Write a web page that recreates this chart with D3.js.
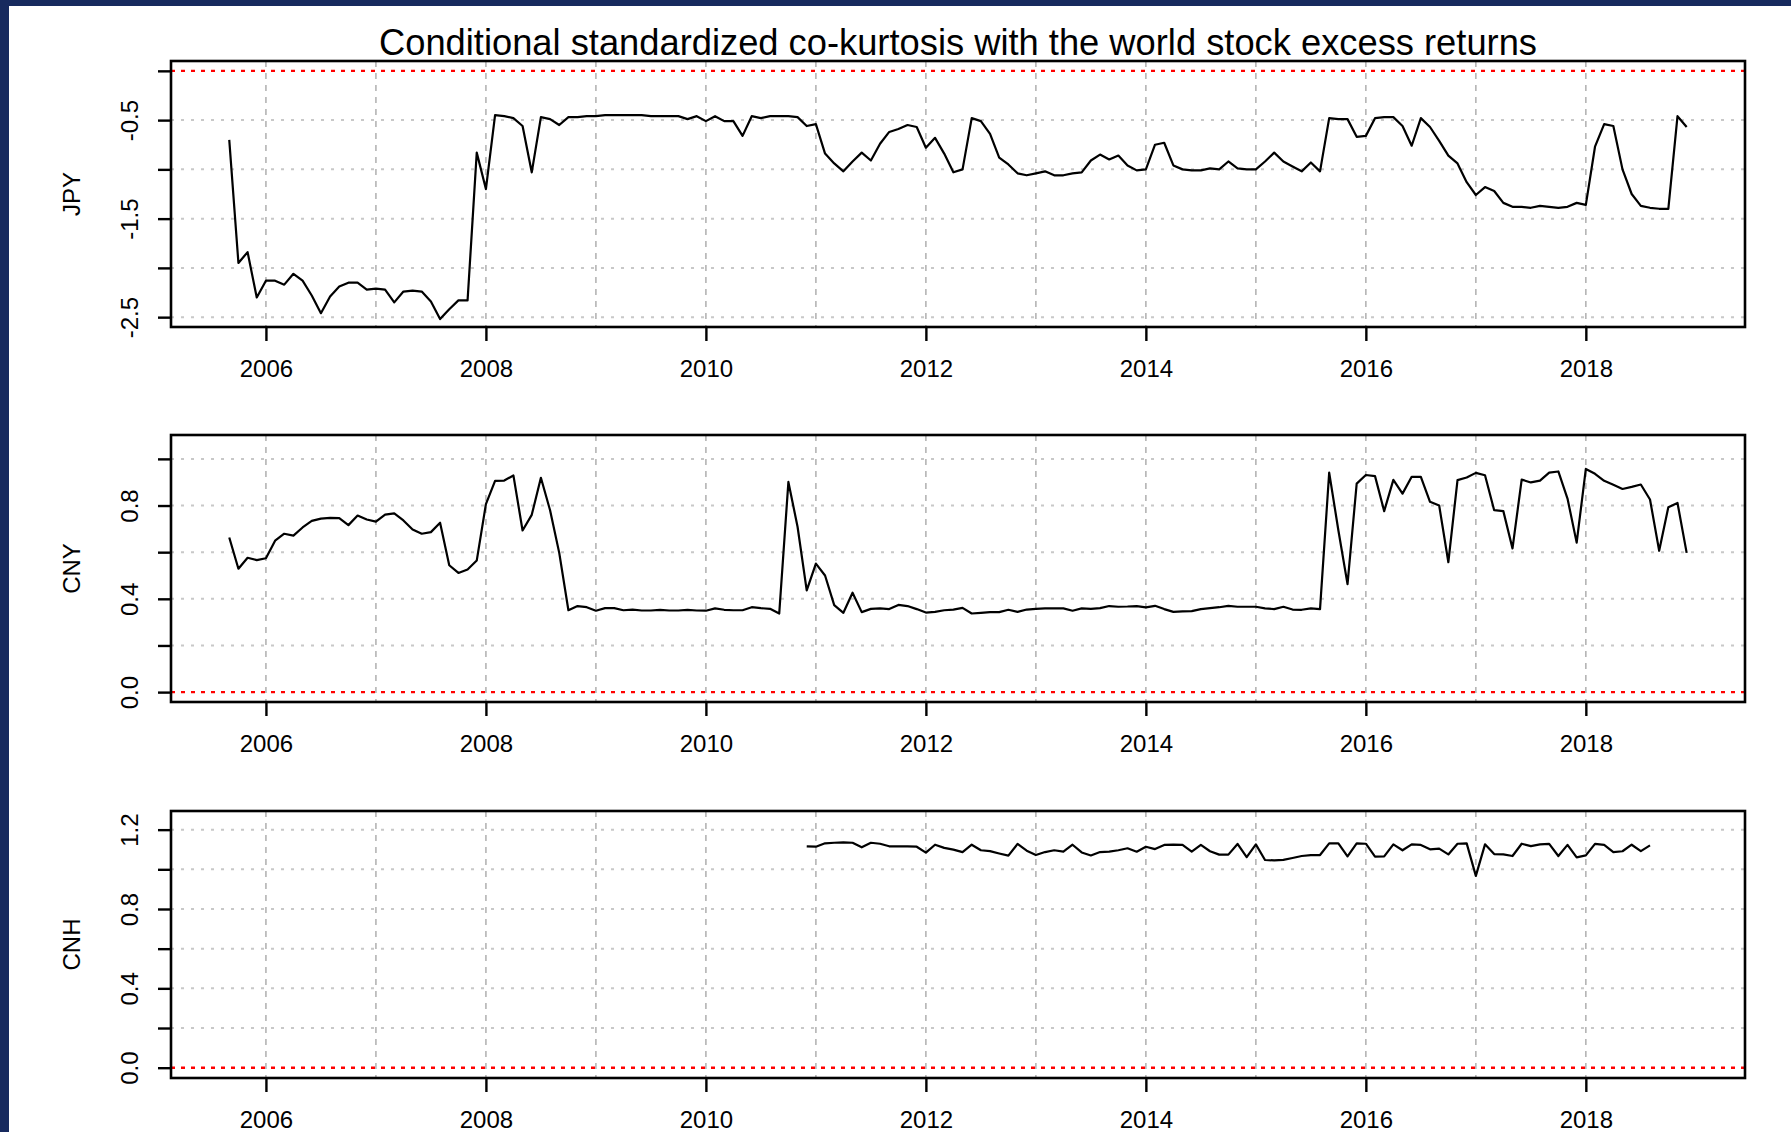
<!DOCTYPE html>
<html>
<head>
<meta charset="utf-8">
<script src="https://cdn.jsdelivr.net/npm/d3@7"></script>
<style>
  body { margin: 0; background: #172a5e; }
  svg { display: block; }
  text { font-family: "Liberation Sans", Arial, Helvetica, sans-serif; fill: #000; }
</style>
</head>
<body>
<svg id="chart" width="1791" height="1132"></svg>
<script>
// monthly series, JPY and CNY start Sep 2005, CNH starts Dec 2010
const mainStart = [2005, 9];
const cnhStart = [2010, 12];

const jpy = [
  -0.70,-1.95,-1.84,-2.30,-2.13,-2.13,-2.17,-2.06,-2.13,-2.28,
  -2.46,-2.29,-2.19,-2.15,-2.15,-2.22,-2.21,-2.22,-2.35,-2.24,
  -2.23,-2.24,-2.34,-2.52,-2.42,-2.33,-2.33,-0.83,-1.20,-0.45,
  -0.46,-0.48,-0.56,-1.03,-0.47,-0.49,-0.55,-0.47,-0.47,-0.46,
  -0.46,-0.45,-0.45,-0.45,-0.45,-0.45,-0.46,-0.46,-0.46,-0.46,
  -0.49,-0.46,-0.51,-0.46,-0.51,-0.51,-0.66,-0.46,-0.48,-0.46,
  -0.46,-0.46,-0.47,-0.56,-0.54,-0.84,-0.94,-1.02,-0.92,-0.83,
  -0.91,-0.74,-0.62,-0.59,-0.55,-0.57,-0.78,-0.68,-0.84,-1.03,
  -1.00,-0.48,-0.51,-0.64,-0.88,-0.95,-1.04,-1.06,-1.04,-1.02,
  -1.06,-1.06,-1.04,-1.03,-0.91,-0.85,-0.90,-0.86,-0.96,-1.01,
  -1.00,-0.75,-0.73,-0.96,-1.00,-1.01,-1.01,-0.99,-1.00,-0.92,
  -0.99,-1.00,-1.00,-0.92,-0.83,-0.92,-0.97,-1.02,-0.93,-1.02,
  -0.48,-0.49,-0.49,-0.67,-0.66,-0.48,-0.47,-0.47,-0.56,-0.76,
  -0.48,-0.57,-0.71,-0.86,-0.94,-1.13,-1.26,-1.18,-1.22,-1.34,
  -1.38,-1.38,-1.39,-1.37,-1.38,-1.39,-1.38,-1.34,-1.36,-0.77,
  -0.54,-0.56,-1.00,-1.25,-1.37,-1.39,-1.40,-1.40,-0.46,-0.57
];

const cny = [
  0.663,0.529,0.576,0.566,0.574,0.649,0.679,0.671,0.706,0.734,
  0.744,0.747,0.746,0.716,0.757,0.740,0.731,0.761,0.766,0.736,
  0.697,0.679,0.686,0.726,0.544,0.511,0.526,0.564,0.806,0.906,
  0.907,0.929,0.693,0.760,0.919,0.780,0.597,0.351,0.369,0.364,
  0.349,0.360,0.360,0.351,0.354,0.350,0.350,0.353,0.350,0.350,
  0.353,0.350,0.349,0.359,0.353,0.351,0.351,0.364,0.360,0.357,
  0.337,0.901,0.709,0.436,0.551,0.500,0.373,0.340,0.426,0.343,
  0.357,0.359,0.356,0.374,0.369,0.356,0.341,0.344,0.351,0.354,
  0.361,0.337,0.340,0.343,0.343,0.353,0.344,0.354,0.357,0.359,
  0.359,0.359,0.349,0.359,0.357,0.360,0.369,0.366,0.367,0.369,
  0.363,0.370,0.356,0.344,0.346,0.347,0.356,0.360,0.364,0.370,
  0.366,0.366,0.366,0.359,0.356,0.366,0.354,0.353,0.359,0.356,
  0.941,0.694,0.463,0.894,0.931,0.926,0.776,0.910,0.851,0.923,
  0.923,0.816,0.800,0.557,0.909,0.920,0.940,0.930,0.780,0.776,
  0.616,0.911,0.899,0.907,0.941,0.946,0.830,0.641,0.957,0.936,
  0.906,0.889,0.871,0.880,0.890,0.826,0.606,0.793,0.811,0.597
];

const cnh = [
  1.116,1.114,1.131,1.134,1.136,1.134,1.111,1.134,1.129,1.116,
  1.116,1.116,1.114,1.084,1.124,1.108,1.099,1.087,1.124,1.096,
  1.092,1.080,1.069,1.128,1.094,1.072,1.087,1.096,1.089,1.124,
  1.085,1.070,1.087,1.089,1.096,1.106,1.089,1.114,1.102,1.123,
  1.124,1.123,1.089,1.123,1.091,1.074,1.074,1.128,1.062,1.126,
  1.047,1.045,1.048,1.057,1.067,1.072,1.072,1.131,1.131,1.065,
  1.131,1.129,1.064,1.065,1.126,1.096,1.126,1.123,1.101,1.104,
  1.075,1.129,1.131,0.967,1.126,1.077,1.075,1.067,1.129,1.117,
  1.126,1.128,1.067,1.123,1.060,1.070,1.128,1.123,1.087,1.091,
  1.124,1.092,1.121
];

const gridYears = [2006,2007,2008,2009,2010,2011,2012,2013,2014,2015,2016,2017,2018];
const yearTicks = [2006,2008,2010,2012,2014,2016,2018];

const jpyTicks = [0,-0.5,-1,-1.5,-2,-2.5];
const jpyLabels = [-0.5,-1.5,-2.5];
const cnyTicks = [0,0.2,0.4,0.6,0.8,1.0];
const cnyLabels = [0,0.4,0.8];
const cnhTicks = [0,0.2,0.4,0.6,0.8,1.0,1.2];
const cnhLabels = [0,0.4,0.8,1.2];

const title = "Conditional standardized co-kurtosis with the world stock excess returns";

const toSeries = (vals, start) =>
  vals.map((v, i) => ({ t: start[0] + (start[1] - 1 + i) / 12, v: v }));

// R style labels: plain hyphen as minus sign
const fmt1 = d => d.toFixed(1);

const panels = [
  { name: "JPY", data: toSeries(jpy, mainStart), ticks: jpyTicks, labels: jpyLabels,
    dom: [-2.6, 0.1], top: 61, bottom: 327 },
  { name: "CNY", data: toSeries(cny, mainStart), ticks: cnyTicks, labels: cnyLabels,
    dom: [-0.0424, 1.1024], top: 435, bottom: 702 },
  { name: "CNH", data: toSeries(cnh, cnhStart), ticks: cnhTicks, labels: cnhLabels,
    dom: [-0.052, 1.294], top: 811, bottom: 1078 }
];

const svg = d3.select("#chart");
const left = 171, right = 1745;

svg.append("rect")
   .attr("x", 9).attr("y", 6)
   .attr("width", 1791 - 9).attr("height", 1132 - 6)
   .attr("fill", "#fff");

const x = d3.scaleLinear()
            .domain([2005.137, 2019.447])
            .range([left, right]);

svg.append("text")
   .attr("x", (left + right) / 2)
   .attr("y", 55)
   .attr("text-anchor", "middle")
   .attr("font-size", 36.3)
   .text(title);

panels.forEach(p => {
  const y = d3.scaleLinear().domain(p.dom).range([p.bottom, p.top]);
  const g = svg.append("g");

  // vertical grid, dashed
  g.selectAll(".vgrid")
   .data(gridYears)
   .enter().append("line")
   .attr("x1", d => x(d)).attr("x2", d => x(d))
   .attr("y1", p.top).attr("y2", p.bottom)
   .attr("stroke", "#b4b4b4")
   .attr("stroke-width", 1.6)
   .attr("stroke-dasharray", "6,6");

  // horizontal grid, dotted
  g.selectAll(".hgrid")
   .data(p.ticks.filter(d => d !== 0))
   .enter().append("line")
   .attr("x1", left).attr("x2", right)
   .attr("y1", d => y(d)).attr("y2", d => y(d))
   .attr("stroke", "#c8c8c8")
   .attr("stroke-width", 2)
   .attr("stroke-dasharray", "3,7");

  // red zero line
  g.append("line")
   .attr("x1", left).attr("x2", right)
   .attr("y1", y(0)).attr("y2", y(0))
   .attr("stroke", "#ff0000")
   .attr("stroke-width", 2.4)
   .attr("stroke-dasharray", "4,6");

  const line = d3.line().x(d => x(d.t)).y(d => y(d.v));
  g.append("path")
   .datum(p.data)
   .attr("d", line)
   .attr("fill", "none")
   .attr("stroke", "#000")
   .attr("stroke-width", 2.2)
   .attr("stroke-linejoin", "round");

  g.append("rect")
   .attr("x", left).attr("y", p.top)
   .attr("width", right - left).attr("height", p.bottom - p.top)
   .attr("fill", "none")
   .attr("stroke", "#000")
   .attr("stroke-width", 2.6);

  // y axis
  const ya = g.append("g")
              .attr("transform", "translate(" + left + ",0)")
              .call(d3.axisLeft(y)
                      .tickValues(p.ticks)
                      .tickSize(13)
                      .tickFormat(d => p.labels.includes(d) ? fmt1(d) : ""));
  ya.select(".domain").remove();
  ya.selectAll("line").attr("stroke", "#000").attr("stroke-width", 2.4);
  ya.selectAll("text")
    .attr("x", 0).attr("y", -33).attr("dy", 0)
    .attr("transform", "rotate(-90)")
    .attr("text-anchor", "middle")
    .attr("font-size", 24)
    .attr("font-family", "Liberation Sans, Arial, sans-serif")
    .attr("fill", "#000");

  // x axis
  const xa = g.append("g")
              .attr("transform", "translate(0," + p.bottom + ")")
              .call(d3.axisBottom(x)
                      .tickValues(yearTicks)
                      .tickSize(14)
                      .tickFormat(d3.format("d")));
  xa.select(".domain").remove();
  xa.selectAll("line").attr("stroke", "#000").attr("stroke-width", 2.4);
  xa.selectAll("text")
    .attr("y", 50).attr("dy", 0)
    .attr("font-size", 24)
    .attr("font-family", "Liberation Sans, Arial, sans-serif")
    .attr("fill", "#000");

  svg.append("text")
     .attr("transform", "translate(80," + (p.top + p.bottom) / 2 + ") rotate(-90)")
     .attr("text-anchor", "middle")
     .attr("font-size", 24)
     .text(p.name);
});
</script>
</body>
</html>
